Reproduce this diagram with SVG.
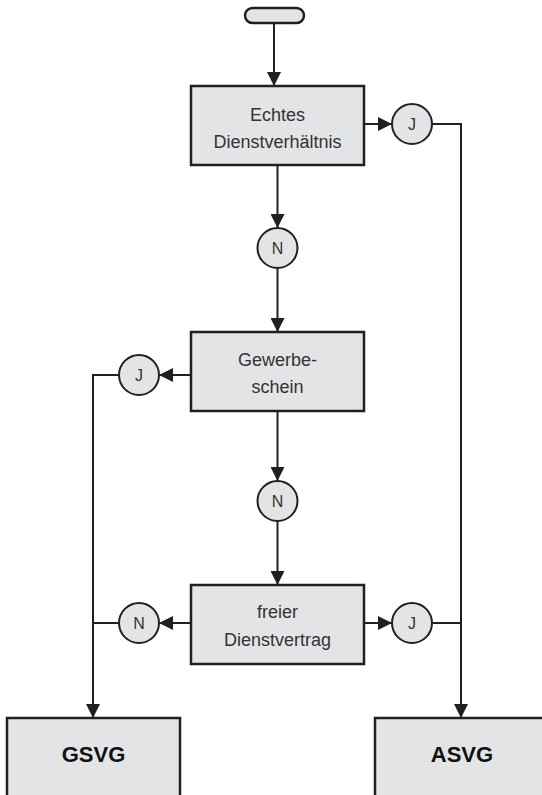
<svg xmlns="http://www.w3.org/2000/svg" width="542" height="795" viewBox="0 0 542 795">
<style>
.box{fill:#e3e4e6;stroke:#231f20;stroke-width:2.5}
.dec{fill:#e3e4e6;stroke:#231f20;stroke-width:2}
.ln{fill:none;stroke:#231f20;stroke-width:2}
.t{font-family:"Liberation Sans",Arial,sans-serif;font-size:18px;fill:#333;text-anchor:middle}
.c{font-family:"Liberation Sans",Arial,sans-serif;font-size:16px;fill:#333;text-anchor:middle}
.b{font-family:"Liberation Sans",Arial,sans-serif;font-size:22px;font-weight:bold;fill:#111;text-anchor:middle}
</style>
<defs>
<marker id="ah" markerWidth="14" markerHeight="14" refX="14" refY="7" orient="auto" markerUnits="userSpaceOnUse">
<path d="M0,0 L14,7 L0,14 z" fill="#231f20"/>
</marker>
</defs>
<g id="connectors">
<line class="ln" x1="274" y1="23" x2="274" y2="86" marker-end="url(#ah)"/>
<line class="ln" x1="364" y1="124" x2="392" y2="124" marker-end="url(#ah)"/>
<polyline class="ln" points="432,124 461,124 461,718" marker-end="url(#ah)"/>
<line class="ln" x1="277.5" y1="165" x2="277.5" y2="228" marker-end="url(#ah)"/>
<line class="ln" x1="277.5" y1="268" x2="277.5" y2="332" marker-end="url(#ah)"/>
<line class="ln" x1="191" y1="375" x2="159" y2="375" marker-end="url(#ah)"/>
<polyline class="ln" points="119,375 93,375 93,718" marker-end="url(#ah)"/>
<line class="ln" x1="277.5" y1="411" x2="277.5" y2="481" marker-end="url(#ah)"/>
<line class="ln" x1="277.5" y1="521" x2="277.5" y2="585" marker-end="url(#ah)"/>
<line class="ln" x1="191" y1="623" x2="159" y2="623" marker-end="url(#ah)"/>
<line class="ln" x1="119" y1="623" x2="93" y2="623"/>
<line class="ln" x1="364" y1="623" x2="392" y2="623" marker-end="url(#ah)"/>
<line class="ln" x1="432" y1="623" x2="461" y2="623"/>
</g>
<g id="start"><rect class="box" x="245" y="8" width="59" height="15" rx="7.5"/></g>
<g id="echtes"><rect class="box" x="191" y="86" width="173" height="79"/>
<text class="t" x="277.5" y="121">Echtes</text><text class="t" x="277.5" y="148">Dienstverhältnis</text></g>
<g id="j1"><circle class="dec" cx="412" cy="124" r="20"/><text class="c" x="412" y="130">J</text></g>
<g id="n1"><circle class="dec" cx="277.5" cy="248" r="20"/><text class="c" x="277.5" y="254">N</text></g>
<g id="gewerbe"><rect class="box" x="191" y="332" width="173" height="79"/>
<text class="t" x="277.5" y="366">Gewerbe-</text><text class="t" x="277.5" y="393">schein</text></g>
<g id="j2"><circle class="dec" cx="139" cy="375" r="20"/><text class="c" x="139" y="381">J</text></g>
<g id="n2"><circle class="dec" cx="277.5" cy="501" r="20"/><text class="c" x="277.5" y="507">N</text></g>
<g id="freier"><rect class="box" x="191" y="585" width="173" height="79"/>
<text class="t" x="277.5" y="618">freier</text><text class="t" x="277.5" y="646">Dienstvertrag</text></g>
<g id="n3"><circle class="dec" cx="139" cy="623" r="20"/><text class="c" x="139" y="629">N</text></g>
<g id="j3"><circle class="dec" cx="412" cy="623" r="20"/><text class="c" x="412" y="629">J</text></g>
<g id="gsvg"><rect class="box" x="7" y="718" width="173" height="90"/><text class="b" x="93.5" y="762">GSVG</text></g>
<g id="asvg"><rect class="box" x="375" y="718" width="174" height="90"/><text class="b" x="462" y="762">ASVG</text></g>
</svg>
